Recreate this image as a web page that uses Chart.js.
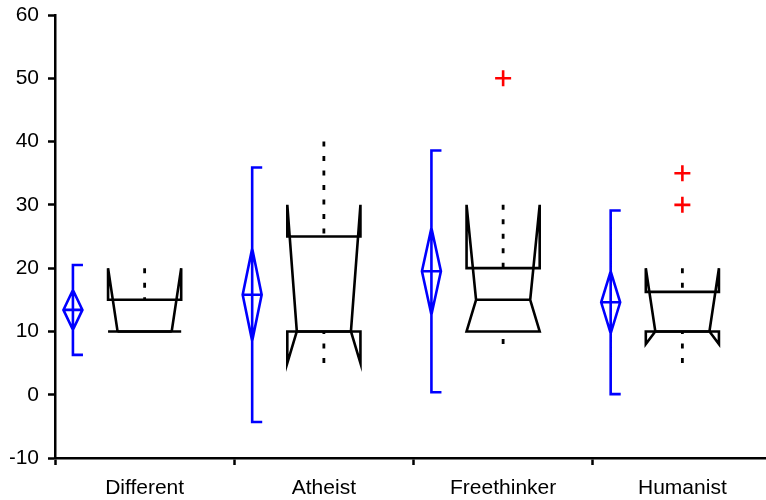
<!DOCTYPE html>
<html>
<head>
<meta charset="utf-8">
<script src="https://cdn.jsdelivr.net/npm/chart.js@4/dist/chart.umd.min.js"></script>
<style>
  html, body { margin: 0; padding: 0; background: #fff; overflow: hidden; }
  canvas { display: block; }
</style>
</head>
<body>
<canvas id="c" width="772" height="500"></canvas>
<script>
// Groups along the x axis
const categories = ['Different', 'Atheist', 'Freethinker', 'Humanist'];

// Mean, standard deviation and 95% confidence half-width per group
const means    = [13.4, 15.8, 19.5, 14.6];
const sdValues = [7.1, 20.1, 19.1, 14.5];
const ciValues = [3.15, 7.3, 6.85, 4.9];

// Notched box plot summaries per group
const whiskerLow  = [10, 5, 8, 5];
const quartile1   = [10, 10, 10, 10];
const medians     = [10, 10, 15, 10];
const quartile3   = [15, 25, 20, 16.25];
const whiskerHigh = [20, 40, 30, 20];
const notchLow    = [10, 5, 10, 8];
const notchHigh   = [20, 30, 30, 20];
const outliers    = [[], [], [50], [30, 35]];

// Value axis range and tick step
const yMin = -10, yMax = 60, yStep = 10;

// Geometry inside each category band (band width = 1)
const MEAN_OFFSET = -0.40;
const DIAMOND_HALF = 0.053;
const CAP_LEN = 0.056;
const BOX_HALF = 0.204;
const NOTCH_INSET = 0.053;

const GAP = { x: NaN, y: null };
const blueLines = [], boxLines = [], medianLines = [], whiskerLines = [], outlierPts = [];

categories.forEach((_, i) => {
  const centre = i + 0.5;
  // mean +/- SD bar with right-hand caps, CI diamond and mean tick
  const c = centre + MEAN_OFFSET;
  const m = means[i], sd = sdValues[i], ci = ciValues[i];
  blueLines.push(
    { x: c + CAP_LEN, y: m + sd }, { x: c, y: m + sd }, { x: c, y: m - sd }, { x: c + CAP_LEN, y: m - sd }, GAP,
    { x: c, y: m + ci }, { x: c + DIAMOND_HALF, y: m }, { x: c, y: m - ci }, { x: c - DIAMOND_HALF, y: m }, { x: c, y: m + ci }, GAP,
    { x: c - DIAMOND_HALF, y: m }, { x: c + DIAMOND_HALF, y: m }, GAP
  );

  // notched box outline
  const L = centre - BOX_HALF, R = centre + BOX_HALF;
  boxLines.push(
    { x: centre, y: quartile3[i] },
    { x: L, y: quartile3[i] }, { x: L, y: notchHigh[i] }, { x: L + NOTCH_INSET, y: medians[i] },
    { x: L, y: notchLow[i] }, { x: L, y: quartile1[i] },
    { x: R, y: quartile1[i] }, { x: R, y: notchLow[i] }, { x: R - NOTCH_INSET, y: medians[i] },
    { x: R, y: notchHigh[i] }, { x: R, y: quartile3[i] },
    { x: centre, y: quartile3[i] }, GAP
  );
  medianLines.push({ x: L + NOTCH_INSET, y: medians[i] }, { x: R - NOTCH_INSET, y: medians[i] }, GAP);

  // whiskers, dash pattern starting at the whisker end
  whiskerLines.push(
    { x: centre, y: whiskerHigh[i] }, { x: centre, y: quartile3[i] }, GAP,
    { x: centre, y: whiskerLow[i] }, { x: centre, y: quartile1[i] }, GAP
  );

  outliers[i].forEach(v => outlierPts.push({ x: centre, y: v }));
});

const lineSet = (data, color, extra) => Object.assign({
  data, showLine: true, spanGaps: false,
  borderColor: color, borderWidth: 2.6,
  borderJoinStyle: 'miter', borderCapStyle: 'butt',
  pointRadius: 0, pointHoverRadius: 0, fill: false, tension: 0
}, extra || {});

const FONT = { family: '"Liberation Sans", Arial, Helvetica, sans-serif', size: 21 };

new Chart(document.getElementById('c'), {
  type: 'scatter',
  data: {
    datasets: [
      lineSet(blueLines, '#0000ff'),
      lineSet(boxLines, '#000000'),
      lineSet(medianLines, '#000000'),
      lineSet(whiskerLines, '#000000', { borderDash: [5, 9.5], borderWidth: 2.8 }),
      {
        data: outlierPts, showLine: false,
        pointStyle: 'cross', pointRadius: 8, pointHoverRadius: 8,
        pointBorderColor: '#ff0000', pointBorderWidth: 2.6, borderColor: '#ff0000'
      }
    ]
  },
  options: {
    responsive: false,
    animation: false,
    events: [],
    layout: { autoPadding: false, padding: { left: 10, top: 15, right: 0, bottom: 0 } },
    plugins: { legend: { display: false }, tooltip: { enabled: false } },
    scales: {
      x: {
        type: 'linear', min: 0, max: categories.length,
        afterFit: s => { s.height = 42; s.paddingLeft = 0; s.paddingRight = 0; },
        grid: {
          drawOnChartArea: false, tickLength: 7, tickWidth: 2.5,
          tickColor: ctx => (ctx.tick && Math.round(ctx.tick.value * 2) % 2 === 0) ? '#000' : 'rgba(0,0,0,0)'
        },
        border: { color: '#000', width: 2.5 },
        ticks: {
          stepSize: 0.5, autoSkip: false, maxRotation: 0, padding: 0,
          color: '#000', font: Object.assign({}, FONT, { lineHeight: 2.2 }),
          callback: v => {
            const k = Math.round(v * 2);
            return k % 2 === 1 ? categories[(k - 1) / 2] : '';
          }
        }
      },
      y: {
        type: 'linear', min: yMin, max: yMax,
        afterFit: s => { s.width = 45; s.paddingTop = 0; s.paddingBottom = 0; },
        grid: { drawOnChartArea: false, tickLength: 7, tickWidth: 2.5, tickColor: '#000' },
        border: { color: '#000', width: 2.5 },
        ticks: { stepSize: yStep, padding: 9, color: '#000', font: FONT }
      }
    }
  }
});
</script>
</body>
</html>
